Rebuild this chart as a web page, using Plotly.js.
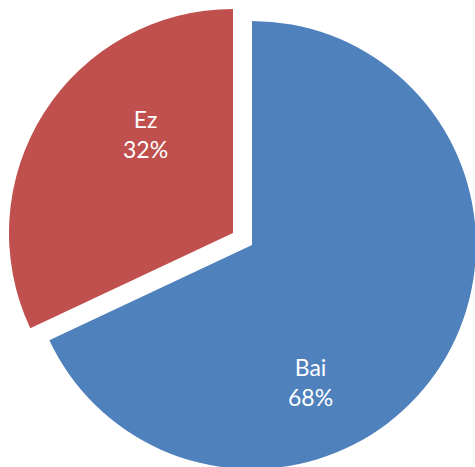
<!DOCTYPE html>
<html>
<head>
<meta charset="utf-8">
<script src="https://cdn.plot.ly/plotly-3.0.1.min.js"></script>
<style>
html,body{margin:0;padding:0;overflow:hidden;background:#fff;}
#chart{width:480px;height:470px;}
</style>
</head>
<body>
<div id="chart"></div>
<script>
const labels = ["Bai", "Ez"];
const values = [68, 32];
const colors = ["#4F81BD", "#C0504D"];
const pulledLabel = "Ez";

const W = 480, H = 470;
const total = values.reduce((a, b) => a + b, 0);
const pct = values.map(v => Math.round(v / total * 100) + "%");
const transparent = "rgba(0,0,0,0)";

// pixel boxes for pie domains (main pie and the pulled slice)
function dom(x0, x1, y0, y1) {
  return {x: [x0 / W, x1 / W], y: [(H - y1) / H, (H - y0) / H]};
}
const mainDomain = dom(28, 476, 21, 469);
const pulledDomain = dom(9, 457, 9, 457);

const traceMain = {
  type: "pie", labels: labels, values: values, sort: false,
  direction: "clockwise", rotation: 0,
  marker: {colors: labels.map((l, i) => l === pulledLabel ? transparent : colors[i]), line: {width: 0}},
  textinfo: "none", hoverinfo: "none", showlegend: false,
  domain: mainDomain
};
const tracePulled = {
  type: "pie", labels: labels, values: values, sort: false,
  direction: "clockwise", rotation: 0,
  marker: {colors: labels.map((l, i) => l === pulledLabel ? colors[i] : transparent), line: {width: 0}},
  textinfo: "none", hoverinfo: "none", showlegend: false,
  domain: pulledDomain
};

const labelPos = [[310, 382], [145, 134]];
const annotations = labels.map((l, i) => ({
  xref: "paper", yref: "paper",
  x: labelPos[i][0] / W, y: 1 - labelPos[i][1] / H,
  xanchor: "center", yanchor: "middle",
  text: l + "<br>" + pct[i], showarrow: false,
  font: {family: "Lato, 'Open Sans', sans-serif", size: 23, color: "#ffffff"}
}));

Plotly.newPlot("chart", [traceMain, tracePulled], {
  width: W, height: H,
  margin: {l: 0, r: 0, t: 0, b: 0},
  paper_bgcolor: "#ffffff",
  showlegend: false,
  annotations: annotations
}, {displayModeBar: false, staticPlot: true});
</script>
</body>
</html>
